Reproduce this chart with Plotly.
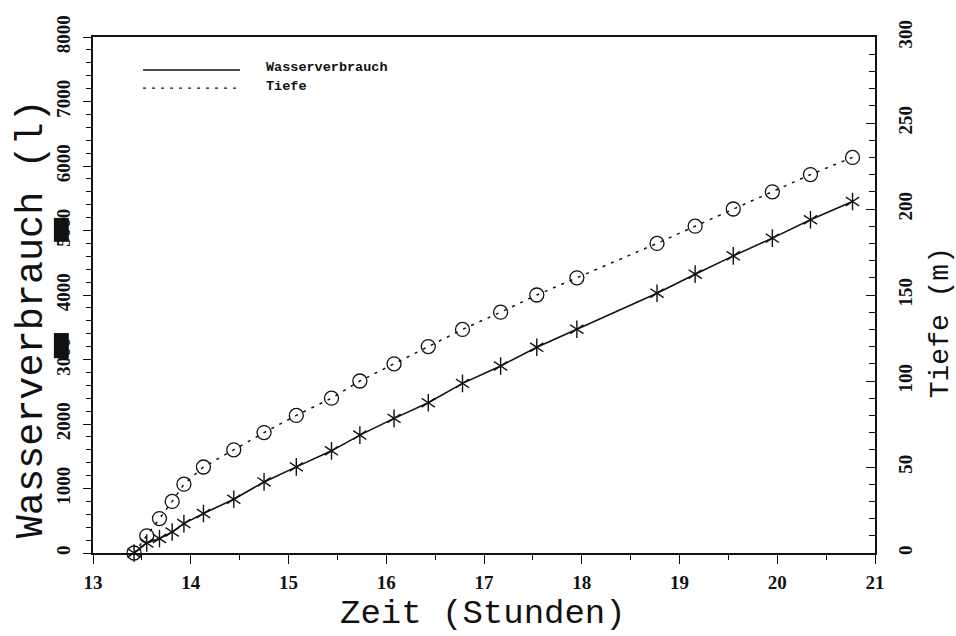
import plotly.graph_objects as go

# Zeitpunkte der Messungen (Stunden)
zeit = [13.42, 13.55, 13.68, 13.81, 13.93, 14.13, 14.44, 14.75, 15.08, 15.44,
        15.73, 16.08, 16.43, 16.78, 17.17, 17.54, 17.95, 18.77, 19.16, 19.55,
        19.95, 20.34, 20.77]
# Kumulierter Wasserverbrauch (l)
wasser = [0, 155, 224, 326, 456, 612, 834, 1102, 1335, 1584,
          1828, 2087, 2329, 2630, 2899, 3189, 3469, 4028, 4323, 4607,
          4882, 5166, 5450]
# Bohrtiefe (m)
tiefe = [0, 10, 20, 30, 40, 50, 60, 70, 80, 90,
         100, 110, 120, 130, 140, 150, 160, 180, 190, 200,
         210, 220, 230]

x_ticks = [13, 14, 15, 16, 17, 18, 19, 20, 21]
y_ticks = [0, 1000, 2000, 3000, 4000, 5000, 6000, 7000, 8000]
y2_ticks = [0, 50, 100, 150, 200, 250, 300]

INK = "#111111"
MONO = "Liberation Mono, Courier New, monospace"
SERIF = "Liberation Serif, Times New Roman, serif"

fig = go.Figure()

# Wasserverbrauch: durchgezogene Linie, Sternmarker (aus zwei Y-Symbolen)
fig.add_trace(go.Scatter(x=zeit, y=wasser, mode="lines",
                         line=dict(color=INK, width=1.6), yaxis="y",
                         showlegend=False, cliponaxis=False))
for sym in ("y-up-open", "y-down-open"):
    fig.add_trace(go.Scatter(x=zeit, y=wasser, mode="markers",
                             marker=dict(symbol=sym, size=11, color=INK,
                                         line=dict(color=INK, width=1.4)),
                             yaxis="y", showlegend=False, cliponaxis=False))

# Tiefe: gestrichelte Linie, offene Kreise
fig.add_trace(go.Scatter(x=zeit, y=tiefe, mode="lines+markers",
                         line=dict(color=INK, width=1.5, dash="3px,6px"),
                         marker=dict(symbol="circle-open", size=14, color=INK,
                                     line=dict(color=INK, width=1.3)),
                         yaxis="y2", showlegend=False, cliponaxis=False))

tickfont = dict(family=SERIF, size=19, color=INK, weight="bold")

fig.update_layout(
    width=956, height=636,
    margin=dict(l=93, r=81, t=37, b=83),
    paper_bgcolor="white", plot_bgcolor="white",
    xaxis=dict(range=[13, 21], tickvals=x_ticks, ticktext=[str(v) for v in x_ticks],
               showgrid=False, zeroline=False, showline=True, mirror=True,
               linecolor=INK, linewidth=1.5, ticks="outside", ticklen=9,
               tickwidth=1.4, tickcolor=INK, tickfont=tickfont,
               ticklabelstandoff=2,
               minor=dict(dtick=0.5, ticks="outside", ticklen=5, tickwidth=1.2,
                          tickcolor=INK, showgrid=False)),
    yaxis=dict(range=[0, 8000], tickvals=y_ticks, ticktext=[str(v) for v in y_ticks],
               showgrid=False, zeroline=False, showline=True,
               linecolor=INK, linewidth=1.5, ticks="outside", ticklen=8,
               tickwidth=1.4, tickcolor=INK, tickfont=tickfont, tickangle=-90,
               ticklabelstandoff=6,
               minor=dict(dtick=200, ticks="outside", ticklen=5, tickwidth=1.2,
                          tickcolor=INK, showgrid=False)),
    yaxis2=dict(range=[0, 300], tickvals=y2_ticks, ticktext=[str(v) for v in y2_ticks],
                overlaying="y", side="right", anchor="x",
                showgrid=False, zeroline=False, showline=True,
                linecolor=INK, linewidth=1.5, ticks="inside", ticklen=9,
                tickwidth=1.4, tickcolor=INK, tickfont=tickfont, tickangle=-90,
                ticklabelstandoff=12,
                minor=dict(dtick=10, ticks="inside", ticklen=6, tickwidth=1.2,
                           tickcolor=INK, showgrid=False)),
)

# Achsentitel
fig.add_annotation(xref="paper", yref="paper", x=0.499, y=-0.118, text="Zeit (Stunden)",
                   showarrow=False, xanchor="center", yanchor="middle",
                   font=dict(family=MONO, size=34, color=INK))
fig.add_annotation(xref="paper", yref="paper", x=-0.078, y=0.453, text="Wasserverbrauch (l)",
                   showarrow=False, xanchor="center", yanchor="middle", textangle=-90,
                   font=dict(family=MONO, size=38.5, color=INK))
fig.add_annotation(xref="paper", yref="paper", x=1.083, y=0.447, text="Tiefe (m)",
                   showarrow=False, xanchor="center", yanchor="middle", textangle=-90,
                   font=dict(family=MONO, size=28, color=INK))

# Legende oben links: Linienmuster mit Beschriftung
legend_font = dict(family=MONO, size=13.5, color=INK, weight="bold")
fig.add_shape(type="line", xref="paper", yref="paper", x0=0.064, x1=0.188,
              y0=0.936, y1=0.936, line=dict(color=INK, width=1.4))
fig.add_shape(type="line", xref="paper", yref="paper", x0=0.064, x1=0.188,
              y0=0.901, y1=0.901, line=dict(color=INK, width=1.4, dash="3px,6px"))
fig.add_annotation(xref="paper", yref="paper", x=0.219, y=0.940, text="Wasserverbrauch",
                   showarrow=False, xanchor="left", yanchor="middle", font=legend_font)
fig.add_annotation(xref="paper", yref="paper", x=0.219, y=0.905, text="Tiefe",
                   showarrow=False, xanchor="left", yanchor="middle", font=legend_font)

# Schwarze Flecken auf den Skalenbeschriftungen 5000 und 3000
for y0, y1 in ((4825, 5195), (3020, 3410)):
    fig.add_shape(type="rect", xref="paper", yref="y", x0=-0.050, x1=-0.031,
                  y0=y0, y1=y1, fillcolor=INK, line=dict(width=0), layer="above")

fig.write_html("out.html")
